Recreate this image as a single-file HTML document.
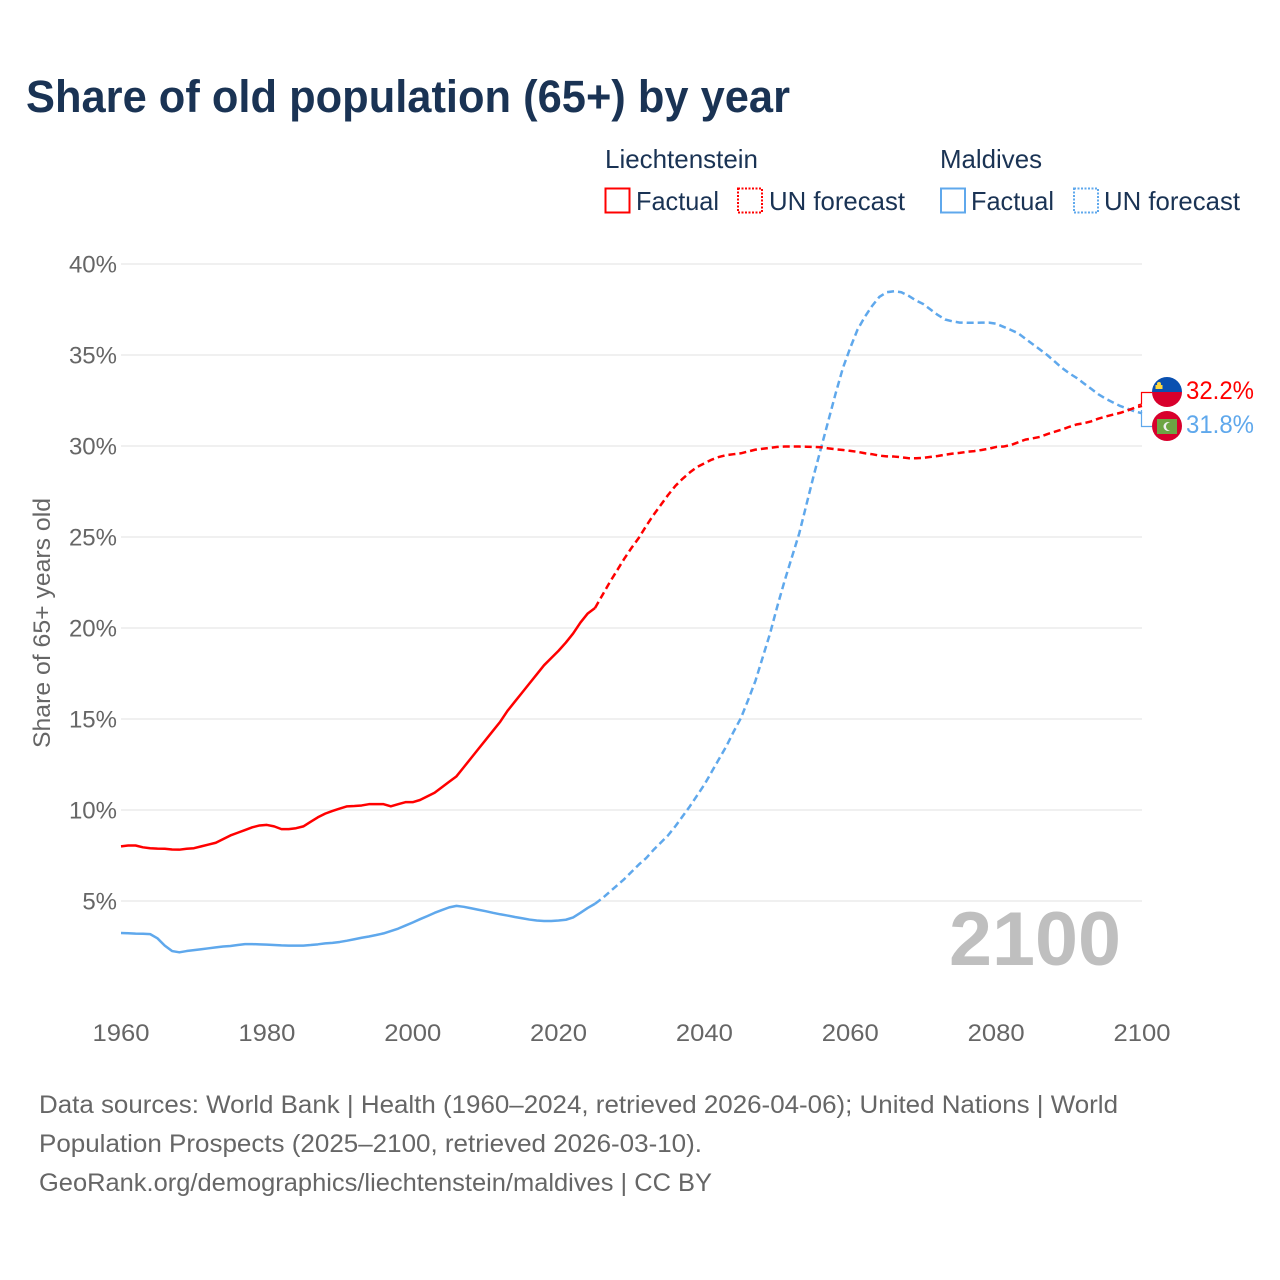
<!DOCTYPE html>
<html lang="en">
<head>
<meta charset="utf-8">
<title>Share of old population (65+) by year</title>
<style>
html,body{margin:0;padding:0;background:#fff}
svg{display:block}
text{font-family:"Liberation Sans",sans-serif}
</style>
</head>
<body>
<svg id="chart" xmlns="http://www.w3.org/2000/svg" width="1280" height="1280" viewBox="0 0 1280 1280">
<rect width="1280" height="1280" fill="#fff"/>
<text x="26" y="112" font-size="45" font-weight="700" fill="#1a3354" textLength="764" lengthAdjust="spacingAndGlyphs">Share of old population (65+) by year</text>
<g font-size="26" fill="#1a3354">
<text x="605" y="168" textLength="153" lengthAdjust="spacingAndGlyphs">Liechtenstein</text>
<rect x="605.5" y="188.5" width="24" height="24" fill="none" stroke="#ff0000" stroke-width="2"/>
<text x="636" y="210" textLength="83" lengthAdjust="spacingAndGlyphs">Factual</text>
<rect x="738" y="188.5" width="24" height="24" fill="none" stroke="#ff0000" stroke-width="2" stroke-dasharray="2,1.5"/>
<text x="769" y="210" textLength="136" lengthAdjust="spacingAndGlyphs">UN forecast</text>
<text x="940" y="168" textLength="102" lengthAdjust="spacingAndGlyphs">Maldives</text>
<rect x="941" y="188.5" width="24" height="24" fill="none" stroke="#5fa8ec" stroke-width="2"/>
<text x="971" y="210" textLength="83" lengthAdjust="spacingAndGlyphs">Factual</text>
<rect x="1074" y="188.5" width="24" height="24" fill="none" stroke="#5fa8ec" stroke-width="2" stroke-dasharray="2,1.5"/>
<text x="1104" y="210" textLength="136" lengthAdjust="spacingAndGlyphs">UN forecast</text>
</g>
<g id="plot"></g>
<text transform="translate(50,748) rotate(-90)" font-size="24" fill="#666" textLength="250" lengthAdjust="spacingAndGlyphs">Share of 65+ years old</text>
<text x="949" y="965" font-size="76" font-weight="700" fill="#bfbfbf" textLength="172" lengthAdjust="spacingAndGlyphs">2100</text>
<g>
<clipPath id="flag-li-clip"><circle cx="1167" cy="392" r="15"/></clipPath>
<clipPath id="flag-mv-clip"><circle cx="1167" cy="426" r="15"/></clipPath>
<polyline points="1138,405 1141.5,404 1141.5,392.5 1152,392.5" fill="none" stroke="#ff0000" stroke-width="1.2"/>
<polyline points="1141.5,410 1141.5,426.5 1152,426.5" fill="none" stroke="#5fa8ec" stroke-width="1.2"/>
<g clip-path="url(#flag-li-clip)">
<rect x="1152" y="377" width="30" height="15" fill="#0a50b0"/>
<rect x="1152" y="392" width="30" height="15" fill="#d8002c"/>
<rect x="1155.5" y="385" width="7" height="4" fill="#ffd83d"/>
<circle cx="1159" cy="384" r="2" fill="#ffd83d"/>
</g>
<g clip-path="url(#flag-mv-clip)">
<rect x="1152" y="411" width="30" height="30" fill="#d8002c"/>
<rect x="1157" y="419" width="20" height="15" fill="#6da544"/>
<circle cx="1168" cy="426.5" r="4.5" fill="#f0f0f0"/>
<circle cx="1170" cy="426.5" r="4" fill="#6da544"/>
</g>
</g>
<g font-size="25" fill="#666">
<text x="39" y="1113" textLength="1079" lengthAdjust="spacingAndGlyphs">Data sources: World Bank | Health (1960–2024, retrieved 2026-04-06); United Nations | World</text>
<text x="39" y="1152" textLength="663" lengthAdjust="spacingAndGlyphs">Population Prospects (2025–2100, retrieved 2026-03-10).</text>
<text x="39" y="1191" textLength="673" lengthAdjust="spacingAndGlyphs">GeoRank.org/demographics/liechtenstein/maldives | CC BY</text>
</g>
</svg>
<script>
const yTicks = [5, 10, 15, 20, 25, 30, 35, 40];
const xTicks = [1960, 1980, 2000, 2020, 2040, 2060, 2080, 2100];
const factualStartYear = 1960;
const forecastStartYear = 2025;
const liechtensteinFactual = [
8.0,8.05,8.05,7.95,7.9,7.88,7.87,7.83,7.82,7.87,
7.9,8.0,8.1,8.2,8.4,8.6,8.75,8.9,9.05,9.15,
9.18,9.1,8.95,8.95,9.0,9.1,9.35,9.6,9.8,9.95,
10.08,10.2,10.22,10.25,10.32,10.32,10.32,10.2,10.32,10.43,
10.43,10.55,10.75,10.95,11.25,11.55,11.85,12.35,12.85,13.35,
13.85,14.35,14.85,15.45,15.95,16.45,16.95,17.45,17.95,18.35,
18.75,19.2,19.7,20.3,20.8,21.1];
const liechtensteinForecast = [
21.1,21.8,22.5,23.15,23.8,24.4,24.95,25.6,26.2,26.75,
27.3,27.8,28.2,28.55,28.85,29.05,29.25,29.4,29.5,29.55,
29.6,29.7,29.8,29.85,29.9,29.95,29.97,29.97,29.97,29.96,
29.95,29.93,29.87,29.82,29.78,29.73,29.68,29.6,29.55,29.47,
29.43,29.42,29.38,29.33,29.33,29.35,29.4,29.45,29.52,29.58,
29.62,29.68,29.72,29.78,29.85,29.95,29.97,30.05,30.2,30.35,
30.42,30.5,30.65,30.78,30.9,31.05,31.18,31.25,31.35,31.5,
31.62,31.72,31.82,31.95,32.1,32.2];
const maldivesFactual = [
3.24,3.23,3.21,3.2,3.18,2.95,2.55,2.25,2.18,2.25,
2.3,2.35,2.4,2.45,2.5,2.53,2.58,2.63,2.63,2.62,
2.6,2.58,2.56,2.55,2.55,2.55,2.58,2.62,2.67,2.7,
2.75,2.82,2.9,2.98,3.05,3.13,3.22,3.35,3.48,3.65,
3.82,4.0,4.17,4.35,4.5,4.65,4.73,4.68,4.6,4.52,
4.44,4.35,4.27,4.2,4.12,4.05,3.98,3.93,3.9,3.9,
3.93,3.97,4.1,4.35,4.62,4.85];
const maldivesForecast = [
4.85,5.15,5.5,5.85,6.2,6.6,7.0,7.35,7.8,8.2,
8.6,9.1,9.65,10.2,10.8,11.4,12.1,12.8,13.5,14.3,
15.05,16.05,17.1,18.4,19.7,21.2,22.6,23.9,25.2,26.8,
28.4,29.9,31.4,32.9,34.3,35.4,36.4,37.1,37.7,38.2,
38.45,38.5,38.45,38.25,38.0,37.8,37.5,37.2,36.95,36.85,
36.78,36.77,36.77,36.78,36.78,36.72,36.55,36.38,36.2,35.9,
35.6,35.3,35.0,34.65,34.3,34.0,33.75,33.45,33.15,32.85,
32.6,32.4,32.2,32.05,31.9,31.8];

const RED = '#ff0000';
const BLUE = '#5fa8ec';
const NS = 'http://www.w3.org/2000/svg';
const plot = document.getElementById('plot');
const x = year => 121 + (year - 1960) * (1142 - 121) / 140;
const y = pct => 992 - pct * 18.2;

function pathFrom(values, startYear) {
  return values.map((v, i) => (i ? 'L' : 'M') + x(startYear + i).toFixed(2) + ' ' + y(v).toFixed(2)).join(' ');
}

yTicks.forEach(t => {
  const line = document.createElementNS(NS, 'line');
  
  
  line.setAttribute('x1', 121);
  line.setAttribute('x2', 1142);
  line.setAttribute('y1', y(t));
  line.setAttribute('y2', y(t));
  line.setAttribute('stroke', '#e8e8e8');
  line.setAttribute('stroke-width', '1.3');
  plot.appendChild(line);
  const label = document.createElementNS(NS, 'text');
  
  
  label.setAttribute('x', 117);
  label.setAttribute('y', y(t) + 8.5);
  label.setAttribute('text-anchor', 'end');
  label.setAttribute('font-size', '24');
  label.setAttribute('fill', '#666');
  label.textContent = t + '%';
  plot.appendChild(label);
});

xTicks.forEach(t => {
  const label = document.createElementNS(NS, 'text');
  
  
  label.setAttribute('x', x(t));
  label.setAttribute('y', 1041);
  label.setAttribute('text-anchor', 'middle');
  label.setAttribute('font-size', '24');
  label.setAttribute('fill', '#666');
  label.setAttribute('textLength', '57');
  label.setAttribute('lengthAdjust', 'spacingAndGlyphs');
  label.textContent = t;
  plot.appendChild(label);
});

function addLine(values, startYear, color, dashed, name) {
  const p = document.createElementNS(NS, 'path');
  
  
  p.setAttribute('d', pathFrom(values, startYear));
  p.setAttribute('fill', 'none');
  p.setAttribute('stroke', color);
  p.setAttribute('stroke-width', '2.5');
  p.setAttribute('stroke-linejoin', 'round');
  if (dashed) p.setAttribute('stroke-dasharray', '7,4');
  plot.appendChild(p);
}
addLine(maldivesFactual, factualStartYear, BLUE, false, 'maldives-factual-line');
addLine(liechtensteinFactual, factualStartYear, RED, false, 'liechtenstein-factual-line');
addLine(maldivesForecast, forecastStartYear, BLUE, true, 'maldives-forecast-line');
addLine(liechtensteinForecast, forecastStartYear, RED, true, 'liechtenstein-forecast-line');

function addEndLabel(values, color, posY, name) {
  const t = document.createElementNS(NS, 'text');
  
  
  t.setAttribute('x', 1186);
  t.setAttribute('y', posY);
  t.setAttribute('font-size', '25');
  t.setAttribute('fill', color);
  t.setAttribute('textLength', '68');
  t.setAttribute('lengthAdjust', 'spacingAndGlyphs');
  t.textContent = values[values.length - 1].toFixed(1) + '%';
  document.getElementById('chart').appendChild(t);
}
addEndLabel(liechtensteinForecast, RED, 399, 'liechtenstein-end-value');
addEndLabel(maldivesForecast, BLUE, 433, 'maldives-end-value');
</script>
</body>
</html>
